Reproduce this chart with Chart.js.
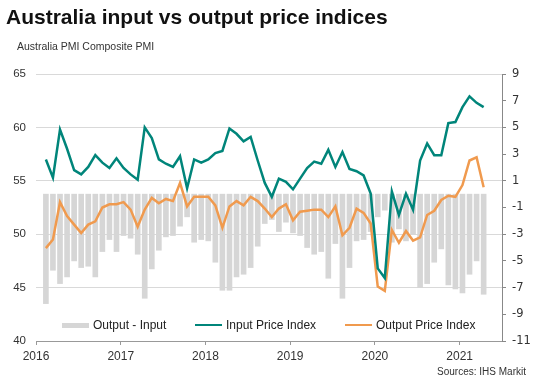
<!DOCTYPE html>
<html>
<head>
<meta charset="utf-8">
<script src="https://cdn.jsdelivr.net/npm/chart.js@4.4.1/dist/chart.umd.min.js"></script>
<style>
  body { margin: 0; background: #fff; }
  #wrap { position: relative; width: 540px; height: 385px; font-family: "Liberation Sans", Arial, sans-serif; }
  #c { position: absolute; left: 0; top: 0; }
  .title { position: absolute; left: 6px; top: 6px; font-size: 21px; line-height: 21px; font-weight: bold; color: #111; white-space: nowrap; }
  .sub { position: absolute; left: 17px; top: 41px; font-size: 10.5px; line-height: 10.5px; color: #333; white-space: nowrap; }
  .src { position: absolute; right: 14px; top: 367px; font-size: 10px; line-height: 10px; color: #333; white-space: nowrap; }
  .lg { position: absolute; top: 318px; height: 14px; display: flex; align-items: center; font-size: 12px; color: #222; white-space: nowrap; }
  .lg i { display: inline-block; margin-right: 4px; }
</style>
</head>
<body>
<div id="wrap">
  <canvas id="c" width="540" height="385"></canvas>
  <div class="title">Australia input vs output price indices</div>
  <div class="sub">Australia PMI Composite PMI</div>
  <div id="legend"></div>
  <div class="src">Sources: IHS Markit</div>
</div>
<script>
// x-axis year labels (one every 12 months)
const years = ['2016', '2017', '2018', '2019', '2020', '2021'];

// monthly series
const inputPrices = [
  57.0, 55.3, 59.8, 58.0, 56.0, 55.6, 56.3, 57.4, 56.7, 56.2, 57.1, 56.2,
  55.6, 55.1, 60.0, 59.0, 57.0, 56.6, 56.3, 57.3, 54.3, 57.0, 56.7, 57.0,
  57.6, 57.8, 59.9, 59.4, 58.7, 59.1, 56.9, 54.8, 53.5, 55.2, 54.9, 54.2,
  55.2, 56.2, 56.8, 56.6, 57.9, 56.3, 57.7, 56.1, 55.9, 55.5, 53.8, 46.8,
  45.9, 54.0, 51.8, 53.8, 52.3, 56.9, 58.5, 57.4, 57.4, 60.4, 60.5, 61.9,
  62.9, 62.3, 61.9
];
const outputPrices = [
  48.7, 49.5, 53.0, 51.7, 50.9, 50.1, 50.9, 51.2, 52.5, 52.8, 52.8, 53.0,
  52.3, 50.7, 52.3, 53.4, 52.9, 53.3, 53.1, 54.8, 52.6, 53.5, 53.5, 53.5,
  52.7, 50.6, 52.6, 53.1, 52.7, 53.5, 53.1, 52.4, 51.6, 52.4, 52.8, 51.3,
  52.1, 52.2, 52.3, 52.3, 51.6, 52.6, 49.9, 50.6, 52.4, 52.0, 51.0, 45.1,
  44.7, 50.4, 49.2, 50.3, 49.4, 49.7, 51.8, 52.2, 53.2, 53.6, 53.5, 54.6,
  56.9, 57.2, 54.4
];
const outputMinusInput = [
  -8.2, -5.7, -6.7, -6.2, -5.0, -5.5, -5.4, -6.2, -4.3, -3.4, -4.3, -3.1,
  -3.3, -4.5, -7.8, -5.6, -4.2, -3.2, -3.1, -2.4, -1.7, -3.6, -3.4, -3.5,
  -5.1, -7.2, -7.2, -6.2, -6.0, -5.5, -3.9, -2.2, -1.9, -2.8, -2.1, -2.9,
  -3.1, -4.0, -4.5, -4.3, -6.3, -3.7, -7.8, -5.5, -3.5, -3.4, -2.8, -1.7,
  -1.2, -3.6, -2.6, -3.5, -3.0, -7.0, -6.7, -5.1, -4.1, -6.8, -7.1, -7.4,
  -6.0, -5.0, -7.5
];

const TEAL = '#00857a';
const ORANGE = '#f09a4e';
const GREY = '#d6d6d6';

// first observation sits a little after the 2016 tick
const firstX = 1.4;
const pts = (arr) => arr.map((v, i) => ({ x: firstX + i, y: v }));

const tickFont = { family: '"Liberation Sans", Arial, sans-serif', size: 11.5 };

const chart = new Chart(document.getElementById('c'), {
  type: 'bar',
  data: {
    datasets: [
      {
        type: 'bar',
        label: 'Output - Input',
        data: pts(outputMinusInput),
        yAxisID: 'yR',
        backgroundColor: GREY,
        barThickness: 5,
        order: 3,
      },
      {
        type: 'line',
        label: 'Input Price Index',
        data: pts(inputPrices),
        yAxisID: 'y',
        borderColor: TEAL,
        backgroundColor: TEAL,
        borderWidth: 2.5,
        pointRadius: 0,
        tension: 0,
        order: 1,
      },
      {
        type: 'line',
        label: 'Output Price Index',
        data: pts(outputPrices),
        yAxisID: 'y',
        borderColor: ORANGE,
        backgroundColor: ORANGE,
        borderWidth: 2.5,
        pointRadius: 0,
        tension: 0,
        order: 2,
      },
    ],
  },
  options: {
    responsive: false,
    animation: false,
    layout: { padding: { top: 74, left: 0, right: 0, bottom: 0 } },
    plugins: {
      legend: { display: false },
      tooltip: { enabled: false },
    },
    scales: {
      x: {
        type: 'linear',
        min: 0,
        max: 66,
        offset: false,
        afterFit: (s) => { s.height = 44; },
        grid: { offset: false, drawOnChartArea: false, drawTicks: true, tickLength: 4, tickColor: '#999' },
        border: { display: true, color: '#999' },
        ticks: {
          stepSize: 12,
          includeBounds: false,
          padding: 4,
          maxRotation: 0,
          color: '#333',
          font: { family: tickFont.family, size: 12 },
          callback: (v) => years[v / 12],
        },
      },
      y: {
        position: 'left',
        min: 40,
        max: 65,
        afterFit: (s) => { s.width = 36; },
        grid: { color: '#d9d9d9', drawTicks: false },
        border: { display: false },
        ticks: { stepSize: 5, padding: 10, color: '#333', font: tickFont },
      },
      yR: {
        position: 'right',
        min: -11,
        max: 9,
        afterFit: (s) => { s.width = 38; },
        grid: { drawOnChartArea: false, drawTicks: true, tickLength: 4, tickColor: '#888' },
        border: { display: true, color: '#888' },
        ticks: { stepSize: 2, padding: 6, color: '#333', font: { family: '"DejaVu Sans", Verdana, sans-serif', size: 11.5 } },
      },
    },
  },
});

// legend drawn as html over the plot, like the original
const legendLeft = [62, 195, 345];
const legend = document.getElementById('legend');
chart.data.datasets.forEach((ds, i) => {
  const item = document.createElement('div');
  item.className = 'lg';
  item.style.left = legendLeft[i] + 'px';
  const mark = document.createElement('i');
  if (ds.type === 'bar') {
    mark.style.cssText = 'width:27px;height:5px;background:' + ds.backgroundColor;
  } else {
    mark.style.cssText = 'width:27px;height:2.5px;background:' + ds.borderColor;
  }
  item.appendChild(mark);
  item.appendChild(document.createTextNode(ds.label));
  legend.appendChild(item);
});
</script>
</body>
</html>
